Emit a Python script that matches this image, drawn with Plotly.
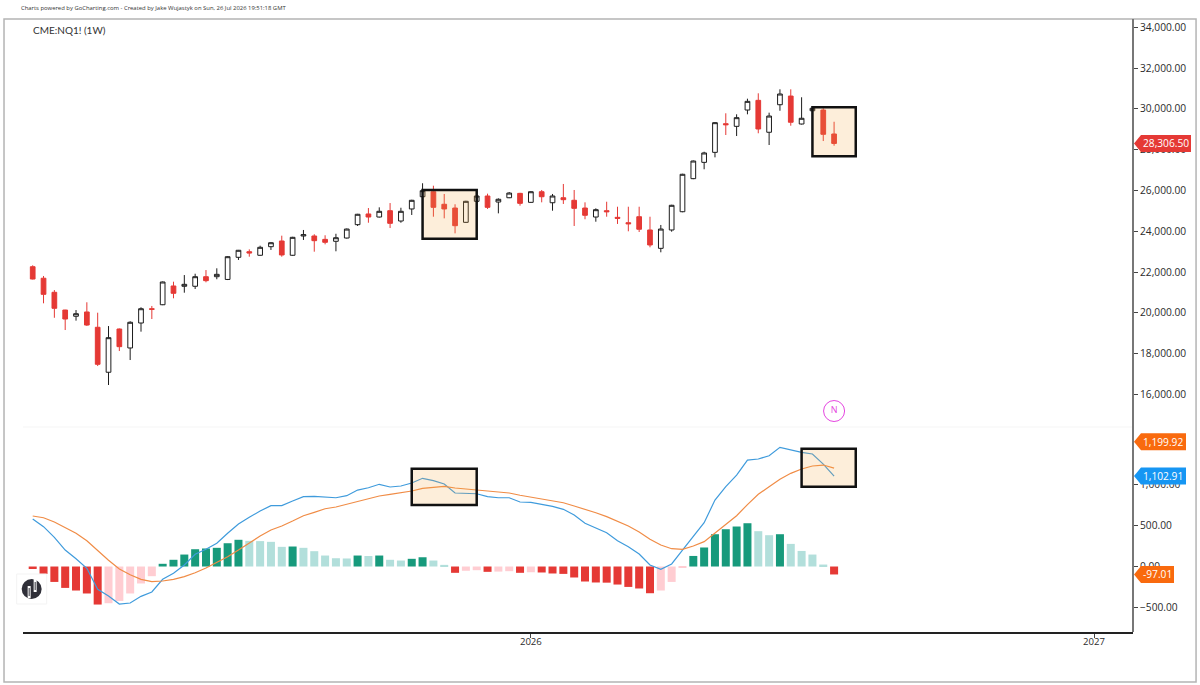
import pandas as pd
import plotly.graph_objects as go

# Weekly NQ futures bars, MACD(12, 26, 9) panel below.
FIRST_WEEK = "2025-02-17"
WEEKS = 75

OPEN = [22264, 21700, 21010, 20140, 19835, 20045, 19295, 17090, 19210, 18280,
        19505, 20205, 20400, 21320, 21305, 21305, 21775, 21775, 21640, 22725,
        23000, 22825, 23245, 23525, 22825, 23770, 23770, 23605, 23510, 23670,
        24325, 24850, 24700, 25010, 24505, 25095, 25695, 25940, 25325, 25140,
        24440, 25470, 25730, 25435, 25645, 25860, 25420, 25940, 25400, 25645,
        25520, 25140, 24700, 25010, 24685, 24420, 24715, 24065, 23165, 24065,
        24960, 26580, 27380, 27870, 29275, 29145, 29945, 30420, 28855, 30205,
        30630, 29260, 29910, 29945, 28770]
HIGH = [22333, 21810, 21120, 20150, 20140, 20520, 20010, 19355, 19235, 19590,
        20275, 20340, 21540, 21530, 21855, 21920, 22100, 22185, 22780, 23085,
        23115, 23295, 23465, 23785, 23730, 24065, 23855, 23805, 23880, 24135,
        24855, 25140, 25175, 25385, 25155, 25545, 26355, 26235, 25830, 25325,
        25495, 25805, 25845, 25615, 25925, 25885, 25965, 26025, 25830, 26320,
        26025, 25420, 25125, 25450, 25205, 25205, 25205, 24715, 24310, 25300,
        26820, 27470, 27900, 29350, 29785, 29735, 30500, 30765, 29815, 30960,
        30960, 30570, 30095, 30030, 29370]
LOW = [21640, 20470, 19760, 19160, 19620, 19360, 17395, 16465, 18130, 17690,
       19080, 19700, 20380, 20715, 20990, 21170, 21500, 21650, 21610, 22595,
       22755, 22800, 23085, 22755, 22800, 23575, 23000, 23360, 23020, 23645,
       24260, 24420, 24675, 24160, 24420, 24800, 25670, 24715, 24635, 23900,
       24415, 25385, 25095, 24880, 25625, 25255, 25395, 25420, 25010, 25340,
       24260, 24590, 24470, 24715, 24360, 24000, 23965, 23215, 22970, 23980,
       24935, 26555, 27040, 27625, 28720, 28670, 29735, 28805, 28230, 29910,
       29175, 29235, 29850, 28425, 28195]
CLOSE = [21660, 20910, 20225, 19700, 19960, 19405, 17480, 18785, 18345, 19540,
         20205, 20175, 21515, 20960, 21400, 21775, 21580, 21890, 22755, 23070,
         22935, 23215, 23440, 22840, 23705, 23835, 23540, 23460, 23685, 24110,
         24835, 24700, 24980, 24390, 24980, 25520, 25990, 25175, 25095, 24275,
         25470, 25730, 25175, 25570, 25875, 25370, 25940, 25695, 25730, 25550,
         25125, 24785, 25060, 24960, 24635, 24370, 24100, 23330, 24110, 25275,
         26795, 27445, 27840, 29325, 29225, 29570, 30370, 29015, 29650, 30730,
         29345, 29540, 30030, 28755, 28306.5]

MACD = [580, 486, 356, 201, 95, -22, -278, -360, -458, -445,
        -364, -311, -156, -83, 18, 149, 210, 283, 405, 519,
        600, 677, 742, 744, 799, 852, 856, 844, 839, 864,
        933, 961, 1003, 970, 982, 1019, 1076, 1047, 1007, 897,
        893, 888, 852, 839, 839, 787, 783, 759, 734, 698,
        628, 527, 466, 412, 315, 242, 153, 18, -34, 31,
        201, 372, 534, 811, 974, 1116, 1299, 1312, 1352, 1454,
        1421, 1393, 1373, 1250, 1102.91]
SIGNAL = [616, 595, 543, 478, 405, 315, 193, 76, -31, -100,
          -156, -185, -177, -156, -124, -76, -18, 46, 120, 201,
          290, 372, 445, 494, 555, 620, 661, 705, 726, 759,
          787, 820, 860, 881, 900, 921, 954, 966, 978, 958,
          946, 933, 917, 905, 897, 869, 848, 824, 803, 778,
          738, 698, 656, 608, 555, 494, 421, 332, 262, 217,
          210, 250, 303, 405, 515, 620, 756, 881, 974, 1064,
          1137, 1190, 1226, 1238, 1199.92]
HIST = [-30, -90, -188, -261, -293, -329, -464, -448, -420, -329,
        -207, -118, 33, 82, 146, 211, 220, 228, 284, 326,
        313, 310, 301, 240, 244, 228, 187, 134, 101, 98,
        134, 128, 134, 82, 73, 94, 113, 73, 20, -77,
        -52, -45, -65, -62, -57, -77, -70, -73, -85, -90,
        -134, -183, -195, -197, -220, -249, -268, -326, -293, -188,
        -15, 129, 232, 394, 455, 488, 528, 431, 382, 394,
        276, 190, 146, 24, -97.01]

PRICE_TICKS = list(range(16000, 34001, 2000))
MACD_TICKS = [-500, 0, 500, 1000]
YEAR_TICKS = ["2026-01-05", "2027-01-04"]
YEAR_LABELS = ["2026", "2027"]

# Highlight boxes: first bar, last bar, lower value, upper value
PRICE_BOXES = [(36, 41, 23637, 26024), (72, 76, 27676, 30078)]
MACD_BOXES = [(35, 41, 750, 1193), (71, 76, 974, 1437)]

NEWS_MARK_PRICE = 15190
SIGNAL_TAG_LEVEL = 1523

RED = "#e53935"
PINK = "#ffcdd2"
GREEN = "#179a7c"
PALE_GREEN = "#b2dfdb"
BLUE = "#3f9bdc"
ORANGE = "#f08c46"
TAG_ORANGE = "#f96a0e"
TAG_BLUE = "#1696f3"
MAGENTA = "#e545e0"
FRAME = "#b4b4b4"
BOX_FILL = "rgba(245,170,70,0.2)"
TICK_FONT = dict(family="Open Sans", size=10.2, color="#2b2b2b")


def week(i):
    return pd.Timestamp(FIRST_WEEK) + pd.Timedelta(days=7 * i)


dates = [week(i) for i in range(WEEKS)]


def hist_colour(i):
    previous = HIST[i - 1] if i else 0
    if HIST[i] >= 0:
        return GREEN if HIST[i] > previous else PALE_GREEN
    return RED if HIST[i] < previous else PINK


fig = go.Figure()

fig.add_trace(go.Candlestick(
    x=dates, open=OPEN, high=HIGH, low=LOW, close=CLOSE,
    increasing=dict(line=dict(color="#1c1c1c", width=1), fillcolor="#ffffff"),
    decreasing=dict(line=dict(color=RED, width=1), fillcolor=RED),
    whiskerwidth=0, xaxis="x", yaxis="y",
))
fig.add_trace(go.Bar(
    x=dates, y=HIST, marker=dict(color=[hist_colour(i) for i in range(WEEKS)], line_width=0),
    xaxis="x", yaxis="y2",
))
fig.add_trace(go.Scatter(x=dates, y=MACD, mode="lines", line=dict(color=BLUE, width=1.2),
                         xaxis="x", yaxis="y2"))
fig.add_trace(go.Scatter(x=dates, y=SIGNAL, mode="lines", line=dict(color=ORANGE, width=1.2),
                         xaxis="x", yaxis="y2"))
fig.add_trace(go.Scatter(
    x=[dates[-1]], y=[NEWS_MARK_PRICE], mode="markers+text", text=["N"],
    textposition="middle center", textfont=dict(family="Open Sans", size=9, color=MAGENTA),
    marker=dict(size=21, color="#ffffff", line=dict(color=MAGENTA, width=1)),
    xaxis="x", yaxis="y",
))

shapes = []

# Outer frame, plot edges and pane separator
shapes.append(dict(type="rect", xref="paper", yref="paper", x0=-0.0171, x1=1.0568, y0=-0.0816, y1=1,
                   line=dict(color=FRAME, width=1.5), layer="below"))
shapes.append(dict(type="line", xref="paper", yref="paper", x0=1, x1=1, y0=0, y1=1,
                   line=dict(color="#777777", width=2)))
shapes.append(dict(type="line", xref="paper", yref="paper", x0=0, x1=1, y0=0.3344, y1=0.3344,
                   line=dict(color="#f5f5f5", width=1), layer="below"))

# Highlight boxes
for first, last, low, high in PRICE_BOXES:
    shapes.append(dict(type="rect", xref="x", yref="y", x0=week(first), x1=week(last), y0=low, y1=high,
                       fillcolor=BOX_FILL, line=dict(color="#111111", width=2.5)))
for first, last, low, high in MACD_BOXES:
    shapes.append(dict(type="rect", xref="x", yref="y2", x0=week(first), x1=week(last), y0=low, y1=high,
                       fillcolor=BOX_FILL, line=dict(color="#111111", width=2.5)))

# Platform badge in the lower left corner
badge = dict(xref="paper", yref="paper", xsizemode="pixel", ysizemode="pixel",
             xanchor=0.0078, yanchor=0.0701)
shapes.append(dict(type="rect", x0=-15, x1=15, y0=-15, y1=15, fillcolor="#ffffff",
                   line=dict(color="#f3f3f3", width=1), **badge))
shapes.append(dict(type="circle", x0=-10, x1=10, y0=-10, y1=10, fillcolor="#2f2f38",
                   line_width=0, **badge))
shapes.append(dict(type="rect", x0=-4, x1=-1, y0=-9, y1=3, fillcolor="#ffffff", line_width=0, **badge))
shapes.append(dict(type="rect", x0=2, x1=5, y0=-3, y1=10, fillcolor="#ffffff", line_width=0, **badge))
shapes.append(dict(type="rect", x0=-3, x1=-2, y0=-7, y1=1, fillcolor="#2f2f38", line_width=0, **badge))
shapes.append(dict(type="rect", x0=3, x1=4, y0=-1, y1=7, fillcolor="#2f2f38", line_width=0, **badge))


# Last-value tags on the right scale
def value_tag(value, level, yref, colour, right_edge):
    path = f"M 1 0 L 8 8.5 L {right_edge} 8.5 L {right_edge} -8.5 L 8 -8.5 Z"
    shapes.append(dict(type="path", path=path, xref="paper", yref=yref, xsizemode="pixel",
                       ysizemode="pixel", xanchor=1, yanchor=level, fillcolor=colour, line_width=0))
    return dict(xref="paper", yref=yref, x=1, y=level, xanchor="left", yanchor="middle", xshift=8,
                text=f"{value:,.2f}", showarrow=False,
                font=dict(family="Open Sans", size=10.2, color="#ffffff"))


annotations = [
    value_tag(CLOSE[-1], CLOSE[-1], "y", RED, 58),
    value_tag(SIGNAL[-1], SIGNAL_TAG_LEVEL, "y2", TAG_ORANGE, 53),
    value_tag(MACD[-1], MACD[-1], "y2", TAG_BLUE, 53),
    value_tag(HIST[-1], HIST[-1], "y2", TAG_ORANGE, 41),
    dict(xref="paper", yref="paper", x=0.0072, y=0.9825, xanchor="left", yanchor="middle",
         text="CME:NQ1! (1W)", showarrow=False,
         font=dict(family="Lato", size=10, color="#333333")),
    dict(xref="paper", yref="paper", x=-0.0036, y=1.0175, xanchor="left", yanchor="middle",
         text="Charts powered by GoCharting.com - Created by Jake Wujastyk on Sun, 26 Jul 2026 19:51:18 GMT",
         showarrow=False, font=dict(family="Open Sans", size=5.9, color="#333333")),
]

axis_style = dict(side="right", anchor="x", showgrid=False, zeroline=False, showline=False,
                  ticks="outside", ticklen=4, tickwidth=1, tickcolor="#444444",
                  tickformat=",.2f", tickfont=TICK_FONT, tickmode="array")

fig.update_layout(
    width=1200, height=685,
    margin=dict(l=23, r=67, t=19, b=53),
    paper_bgcolor="#ffffff", plot_bgcolor="#ffffff",
    showlegend=False, bargap=0.26, boxgap=0.38,
    shapes=shapes, annotations=annotations,
    xaxis=dict(
        type="date", anchor="y2", domain=[0, 1],
        range=["2025-02-10 17:30", "2027-01-29 05:00"],
        rangeslider=dict(visible=False),
        tickmode="array", tickvals=YEAR_TICKS, ticktext=YEAR_LABELS,
        ticks="outside", ticklen=4, tickwidth=1, tickcolor="#444444",
        tickfont=dict(family="Open Sans", size=9.6, color="#2b2b2b"), ticklabelstandoff=-4,
        showgrid=False, zeroline=False, showline=True, linecolor="#222222", linewidth=1.5,
    ),
    yaxis=dict(domain=[0.3344, 1], range=[14406, 34407], tickvals=PRICE_TICKS, **axis_style),
    yaxis2=dict(domain=[0, 0.3344], range=[-799, 1702], tickvals=MACD_TICKS, **axis_style),
)

fig.write_html("out.html", config={"displayModeBar": False})
